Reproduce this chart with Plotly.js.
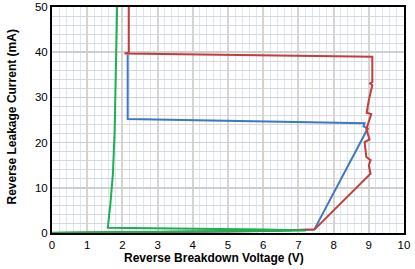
<!DOCTYPE html>
<html>
<head>
<meta charset="utf-8">
<script src="https://cdn.plot.ly/plotly-3.0.1.min.js"></script>
<style>html,body{margin:0;padding:0;background:#fff}#chart{width:415px;height:269px}</style>
</head>
<body>
<div id="chart"></div>
<script>
// Voltage (V) / current (mA) traces
const redV = [0, 3, 6, 7.46, 9.05, 9.0, 9.05, 8.93, 8.88, 9.02, 8.93, 9.07, 8.94, 9.0, 9.1, 9.04, 9.1, 9.1, 2.06, 2.18, 2.18];
const redI = [0, 0.2, 0.45, 0.8, 13.1, 15.0, 16.1, 16.8, 20.1, 20.7, 23.0, 26.3, 26.6, 29.4, 32.7, 33.1, 33.4, 39.0, 39.7, 39.9, 50];

const blueV = [0, 3, 6, 7.45, 8.97, 8.85, 8.88, 2.15, 2.15];
const blueI = [0, 0.2, 0.45, 0.75, 23.1, 23.6, 24.3, 25.2, 39.5];

const greenV = [0, 3, 6, 7.2, 6, 3, 1.585, 1.66, 1.73, 1.78, 1.80, 1.83, 1.85];
const greenI = [0.05, 0.2, 0.4, 0.55, 0.75, 0.95, 1.15, 6.5, 13.1, 22.7, 30, 40, 50];

const xTitle = "Reverse Breakdown Voltage (V)";
const yTitle = "Reverse Leakage Current (mA)";

const traces = [
  {x: blueV, y: blueI, mode: 'lines', line: {color: '#3f78c0', width: 2}, hoverinfo: 'skip'},
  {x: redV, y: redI, mode: 'lines', line: {color: '#c43c3c', width: 2}, hoverinfo: 'skip'},
  {x: greenV, y: greenI, mode: 'lines', line: {color: '#1db050', width: 2}, hoverinfo: 'skip'}
];

const layout = {
  width: 415, height: 269,
  margin: {l: 52, r: 11, t: 7, b: 36},
  paper_bgcolor: '#ffffff', plot_bgcolor: '#ffffff',
  showlegend: false,
  font: {family: 'Liberation Sans, Arial, sans-serif', size: 11, color: '#000'},
  xaxis: {
    range: [0, 10], dtick: 1, tick0: 0,
    showline: true, linecolor: '#000', linewidth: 2, mirror: true,
    showgrid: true, gridcolor: '#d4d4d4', gridwidth: 2,
    zeroline: false, ticks: '', ticklen: 0,
    tickfont: {size: 11.5},
    minor: {dtick: 0.2, showgrid: true, gridcolor: '#d8e6f5', gridwidth: 1}
  },
  yaxis: {
    range: [0, 50], dtick: 10, tick0: 0,
    showline: true, linecolor: '#000', linewidth: 2, mirror: true,
    showgrid: true, gridcolor: '#cfcfcf', gridwidth: 1.5,
    zeroline: false, ticks: '', ticklen: 0,
    tickfont: {size: 11.5},
    minor: {dtick: 2, showgrid: true, gridcolor: '#d9d9d9', gridwidth: 1}
  },
  annotations: [
    {text: xTitle, xref: 'paper', yref: 'paper', x: 0.4616, y: -0.1106,
     xanchor: 'center', yanchor: 'middle', showarrow: false,
     font: {size: 12, weight: 'bold'}},
    {text: yTitle, xref: 'paper', yref: 'paper', x: -0.1136, y: 0.511,
     xanchor: 'center', yanchor: 'middle', showarrow: false, textangle: -90,
     font: {size: 12, weight: 'bold'}}
  ]
};

Plotly.newPlot('chart', traces, layout, {staticPlot: true, displayModeBar: false});
</script>
</body>
</html>
